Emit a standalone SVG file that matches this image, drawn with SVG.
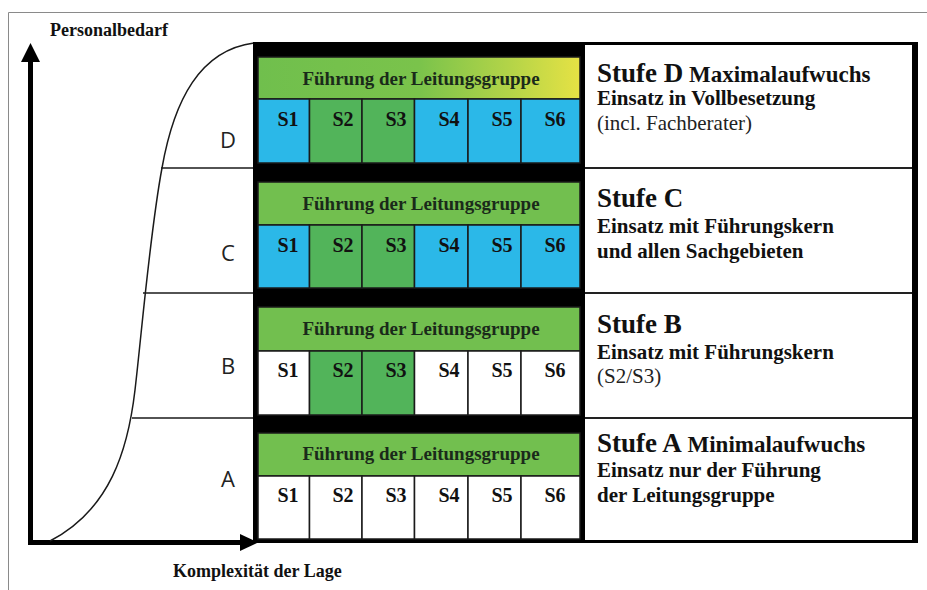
<svg xmlns="http://www.w3.org/2000/svg" width="927" height="590" viewBox="0 0 927 590">
<defs>
<linearGradient id="gradD" x1="0" y1="0" x2="1" y2="0">
<stop offset="0" stop-color="#70bf4d"/>
<stop offset="0.5" stop-color="#7ac34b"/>
<stop offset="0.78" stop-color="#b3d448"/>
<stop offset="1" stop-color="#e6e244"/>
</linearGradient>
<style>
.hdr{fill:#72bf4f;stroke:#1a1a1a;stroke-width:1.5}
.cw{fill:#ffffff;stroke:#1a1a1a;stroke-width:1.5}
.cb{fill:#2bb8e8;stroke:#1a1a1a;stroke-width:1.5}
.cg{fill:#52b45a;stroke:#1a1a1a;stroke-width:1.5}
.ht{font-family:"Liberation Serif",serif;font-weight:bold;font-size:19px;fill:#1a2a1a;text-anchor:middle}
.st{font-family:"Liberation Serif",serif;font-weight:bold;font-size:20px;fill:#111;text-anchor:middle}
.big{font-family:"Liberation Serif",serif;font-weight:bold;font-size:27px;fill:#111}
.sub{font-size:23px}
.ln{font-family:"Liberation Serif",serif;font-weight:bold;font-size:21px;fill:#111}
.lr{font-family:"Liberation Serif",serif;font-weight:normal;font-size:21px;fill:#222}
.ax{font-family:"Liberation Serif",serif;font-weight:bold;font-size:18px;fill:#111}
.lv{font-family:"Open Sans","DejaVu Sans",sans-serif;font-size:22px;fill:#222;text-anchor:middle}
.thin{stroke:#1a1a1a;stroke-width:1.5;fill:none}
</style>
</defs>
<rect x="0" y="0" width="927" height="590" fill="#ffffff"/>
<path d="M8.5,590 V12.5 H927" fill="none" stroke="#8a8a8a" stroke-width="1"/>

<g id="axes">
<line x1="30.5" y1="545" x2="30.5" y2="60" stroke="#000" stroke-width="5"/>
<polygon points="21,62 40,62 30.5,43" fill="#000"/>
<line x1="28" y1="542.5" x2="242" y2="542.5" stroke="#000" stroke-width="5"/>
<polygon points="240,534 240,551 258,542.5" fill="#000"/>
<text class="ax" x="50" y="36">Personalbedarf</text>
<text class="ax" x="173" y="577">Komplexität der Lage</text>
</g>

<g id="curve">
<path class="thin" d="M50,541 C110,510 128,450 135,390 C142,330 150,232 162,168 C174,100 200,50 254,43"/>
<line class="thin" x1="161" y1="168" x2="254" y2="168"/>
<line class="thin" x1="143" y1="293" x2="254" y2="293"/>
<line class="thin" x1="132" y1="418" x2="254" y2="418"/>
<text class="lv" x="228" y="148">D</text>
<text class="lv" x="228" y="261">C</text>
<text class="lv" x="228" y="374">B</text>
<text class="lv" x="228" y="487">A</text>
</g>

<g id="frame">
<rect x="253" y="42" width="665" height="501" fill="#000"/>
<rect x="585" y="45" width="327" height="495" fill="#fff"/>
<line x1="585" y1="168" x2="912" y2="168" stroke="#222" stroke-width="2"/>
<line x1="585" y1="293" x2="912" y2="293" stroke="#222" stroke-width="2"/>
<line x1="585" y1="418" x2="912" y2="418" stroke="#222" stroke-width="2"/>
</g>

<g id="stufe-d">
<rect x="258" y="57" width="322" height="42" fill="url(#gradD)" stroke="#1a1a1a" stroke-width="1.5"/>
<text class="ht" x="421" y="85">Führung der Leitungsgruppe</text>
<rect class="cb" x="258" y="99" width="51.5" height="64"/>
<rect class="cg" x="309.5" y="99" width="52.5" height="64"/>
<rect class="cg" x="362" y="99" width="52.5" height="64"/>
<rect class="cb" x="414.5" y="99" width="53.5" height="64"/>
<rect class="cb" x="468" y="99" width="53" height="64"/>
<rect class="cb" x="521" y="99" width="59" height="64"/>
<text class="st" x="288" y="126">S1</text>
<text class="st" x="343" y="126">S2</text>
<text class="st" x="396" y="126">S3</text>
<text class="st" x="449" y="126">S4</text>
<text class="st" x="502" y="126">S5</text>
<text class="st" x="555" y="126">S6</text>
<text class="big" x="597" y="82">Stufe D<tspan class="sub"> Maximalaufwuchs</tspan></text>
<text class="ln" x="597" y="105">Einsatz in Vollbesetzung</text>
<text class="lr" x="597" y="130">(incl. Fachberater)</text>
</g>

<g id="stufe-c">
<rect class="hdr" x="258" y="182" width="322" height="43"/>
<text class="ht" x="421" y="210">Führung der Leitungsgruppe</text>
<rect class="cb" x="258" y="225" width="51.5" height="63"/>
<rect class="cg" x="309.5" y="225" width="52.5" height="63"/>
<rect class="cg" x="362" y="225" width="52.5" height="63"/>
<rect class="cb" x="414.5" y="225" width="53.5" height="63"/>
<rect class="cb" x="468" y="225" width="53" height="63"/>
<rect class="cb" x="521" y="225" width="59" height="63"/>
<text class="st" x="288" y="252">S1</text>
<text class="st" x="343" y="252">S2</text>
<text class="st" x="396" y="252">S3</text>
<text class="st" x="449" y="252">S4</text>
<text class="st" x="502" y="252">S5</text>
<text class="st" x="555" y="252">S6</text>
<text class="big" x="597" y="207">Stufe C</text>
<text class="ln" x="597" y="233">Einsatz mit Führungskern</text>
<text class="ln" x="597" y="258">und allen Sachgebieten</text>
</g>

<g id="stufe-b">
<rect class="hdr" x="258" y="307" width="322" height="44"/>
<text class="ht" x="421" y="335">Führung der Leitungsgruppe</text>
<rect class="cw" x="258" y="351" width="51.5" height="64"/>
<rect class="cg" x="309.5" y="351" width="52.5" height="64"/>
<rect class="cg" x="362" y="351" width="52.5" height="64"/>
<rect class="cw" x="414.5" y="351" width="53.5" height="64"/>
<rect class="cw" x="468" y="351" width="53" height="64"/>
<rect class="cw" x="521" y="351" width="59" height="64"/>
<text class="st" x="288" y="377">S1</text>
<text class="st" x="343" y="377">S2</text>
<text class="st" x="396" y="377">S3</text>
<text class="st" x="449" y="377">S4</text>
<text class="st" x="502" y="377">S5</text>
<text class="st" x="555" y="377">S6</text>
<text class="big" x="597" y="333">Stufe B</text>
<text class="ln" x="597" y="359">Einsatz mit Führungskern</text>
<text class="lr" x="597" y="383">(S2/S3)</text>
</g>

<g id="stufe-a">
<rect class="hdr" x="258" y="433" width="322" height="43"/>
<text class="ht" x="421" y="460">Führung der Leitungsgruppe</text>
<rect class="cw" x="258" y="476" width="51.5" height="63"/>
<rect class="cw" x="309.5" y="476" width="52.5" height="63"/>
<rect class="cw" x="362" y="476" width="52.5" height="63"/>
<rect class="cw" x="414.5" y="476" width="53.5" height="63"/>
<rect class="cw" x="468" y="476" width="53" height="63"/>
<rect class="cw" x="521" y="476" width="59" height="63"/>
<text class="st" x="288" y="502">S1</text>
<text class="st" x="343" y="502">S2</text>
<text class="st" x="396" y="502">S3</text>
<text class="st" x="449" y="502">S4</text>
<text class="st" x="502" y="502">S5</text>
<text class="st" x="555" y="502">S6</text>
<text class="big" x="597" y="452">Stufe A<tspan class="sub"> Minimalaufwuchs</tspan></text>
<text class="ln" x="597" y="477">Einsatz nur der Führung</text>
<text class="ln" x="597" y="502">der Leitungsgruppe</text>
</g>
</svg>
